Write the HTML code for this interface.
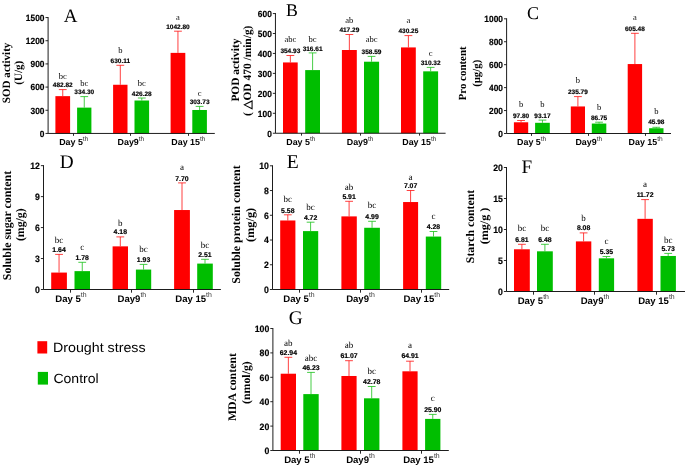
<!DOCTYPE html>
<html><head><meta charset="utf-8"><title>Figure</title>
<style>html,body{margin:0;padding:0;background:#fff;}svg{display:block;}text{font-family:"Liberation Sans",sans-serif;fill:#000;text-rendering:geometricPrecision;}.s{font-family:"Liberation Serif",serif;}.b{font-weight:bold;}.k{stroke:#000;stroke-width:0.18px;}</style></head><body>
<svg width="685" height="466" viewBox="0 0 685 466">
<defs><filter id="idf" x="0" y="0" width="685" height="466" filterUnits="userSpaceOnUse"><feOffset dx="0" dy="0"/></filter></defs>
<rect x="0" y="0" width="685" height="466" fill="#ffffff"/>
<g filter="url(#idf)">
<g>
<path d="M62.75 96.14V89.60M58.85 89.60H66.65" stroke="#ff1010" stroke-width="0.8" fill="none"/>
<rect x="55.40" y="96.14" width="14.70" height="37.31" fill="#ff0000"/>
<text class="b k" x="62.75" y="86.90" font-size="6.50" text-anchor="middle">482.82</text>
<text class="s" x="62.75" y="78.50" font-size="8.50" text-anchor="middle" fill="#3a3a3a">bc</text>
<path d="M84.25 107.62V96.60M80.35 96.60H88.15" stroke="#18c018" stroke-width="0.8" fill="none"/>
<rect x="77.10" y="107.62" width="14.30" height="25.83" fill="#00be00"/>
<text class="b k" x="84.25" y="93.90" font-size="6.50" text-anchor="middle">334.30</text>
<text class="s" x="84.25" y="85.50" font-size="8.50" text-anchor="middle" fill="#3a3a3a">bc</text>
<path d="M120.30 84.76V65.30M116.40 65.30H124.20" stroke="#ff1010" stroke-width="0.8" fill="none"/>
<rect x="113.10" y="84.76" width="14.40" height="48.69" fill="#ff0000"/>
<text class="b k" x="120.30" y="62.80" font-size="6.50" text-anchor="middle">630.11</text>
<text class="s" x="120.30" y="52.60" font-size="8.50" text-anchor="middle" fill="#3a3a3a">b</text>
<path d="M141.80 100.51V98.00M137.90 98.00H145.70" stroke="#18c018" stroke-width="0.8" fill="none"/>
<rect x="134.50" y="100.51" width="14.60" height="32.94" fill="#00be00"/>
<text class="b k" x="141.80" y="95.50" font-size="6.50" text-anchor="middle">426.28</text>
<text class="s" x="141.80" y="85.50" font-size="8.50" text-anchor="middle" fill="#3a3a3a">bc</text>
<path d="M177.95 52.88V31.20M174.05 31.20H181.85" stroke="#ff1010" stroke-width="0.8" fill="none"/>
<rect x="170.60" y="52.88" width="14.70" height="80.57" fill="#ff0000"/>
<text class="b k" x="177.95" y="28.60" font-size="6.50" text-anchor="middle">1042.80</text>
<text class="s" x="177.95" y="20.20" font-size="8.50" text-anchor="middle" fill="#3a3a3a">a</text>
<path d="M199.60 109.98V106.40M195.70 106.40H203.50" stroke="#18c018" stroke-width="0.8" fill="none"/>
<rect x="192.30" y="109.98" width="14.60" height="23.47" fill="#00be00"/>
<text class="b k" x="199.60" y="104.40" font-size="6.50" text-anchor="middle">303.73</text>
<text class="s" x="199.60" y="95.50" font-size="8.50" text-anchor="middle" fill="#3a3a3a">c</text>
<path d="M48.10 17.05V133.45H214.80" stroke="#111" stroke-width="0.95" fill="none"/>
<path d="M45.50 133.45H48.10M45.50 110.27H48.10M45.50 87.09H48.10M45.50 63.91H48.10M45.50 40.73H48.10M45.50 17.55H48.10M73.50 133.45V135.85M130.50 133.45V135.85M188.50 133.45V135.85" stroke="#111" stroke-width="0.9" fill="none"/>
<text class="b k" transform="translate(44.50 136.78) scale(0.93 1)" font-size="9.00" text-anchor="end">0</text>
<text class="b k" transform="translate(44.50 113.60) scale(0.93 1)" font-size="9.00" text-anchor="end">300</text>
<text class="b k" transform="translate(44.50 90.42) scale(0.93 1)" font-size="9.00" text-anchor="end">600</text>
<text class="b k" transform="translate(44.50 67.24) scale(0.93 1)" font-size="9.00" text-anchor="end">900</text>
<text class="b k" transform="translate(44.50 44.06) scale(0.93 1)" font-size="9.00" text-anchor="end">1200</text>
<text class="b k" transform="translate(44.50 20.88) scale(0.93 1)" font-size="9.00" text-anchor="end">1500</text>
<text class="b" x="59.15" y="145.00" font-size="8.90">Day 5<tspan font-weight="normal" fill="#333" font-size="6.60" dy="-4.45">th</tspan></text>
<text class="b" x="117.55" y="145.00" font-size="8.90">Day9<tspan font-weight="normal" fill="#333" font-size="6.60" dy="-4.45">th</tspan></text>
<text class="b" x="171.35" y="145.00" font-size="8.90">Day 15<tspan font-weight="normal" fill="#333" font-size="6.60" dy="-4.45">th</tspan></text>
<text class="s" x="63.80" y="21.70" font-size="19.00">A</text>
<text class="s b" transform="translate(9.50 72.90) rotate(-90)" font-size="11.20" text-anchor="middle" textLength="60.60" lengthAdjust="spacingAndGlyphs">SOD activity</text>
<text class="s b" transform="translate(22.30 72.80) rotate(-90)" font-size="11.20" text-anchor="middle" textLength="23.80" lengthAdjust="spacingAndGlyphs">(U/g)</text>
</g>
<g>
<path d="M290.35 62.44V55.50M286.45 55.50H294.25" stroke="#ff1010" stroke-width="0.8" fill="none"/>
<rect x="283.00" y="62.44" width="14.70" height="70.81" fill="#ff0000"/>
<text class="b k" x="290.35" y="52.60" font-size="6.50" text-anchor="middle">354.93</text>
<text class="s" x="290.35" y="42.30" font-size="8.50" text-anchor="middle" fill="#3a3a3a">abc</text>
<path d="M312.60 70.09V52.90M308.70 52.90H316.50" stroke="#18c018" stroke-width="0.8" fill="none"/>
<rect x="305.20" y="70.09" width="14.80" height="63.16" fill="#00be00"/>
<text class="b k" x="312.60" y="50.50" font-size="6.50" text-anchor="middle">316.61</text>
<text class="s" x="312.60" y="42.30" font-size="8.50" text-anchor="middle" fill="#3a3a3a">bc</text>
<path d="M349.35 50.00V34.50M345.45 34.50H353.25" stroke="#ff1010" stroke-width="0.8" fill="none"/>
<rect x="341.90" y="50.00" width="14.90" height="83.25" fill="#ff0000"/>
<text class="b k" x="349.35" y="31.70" font-size="6.50" text-anchor="middle">417.29</text>
<text class="s" x="349.35" y="23.30" font-size="8.50" text-anchor="middle" fill="#3a3a3a">ab</text>
<path d="M371.55 61.71V56.40M367.65 56.40H375.45" stroke="#18c018" stroke-width="0.8" fill="none"/>
<rect x="364.00" y="61.71" width="15.10" height="71.54" fill="#00be00"/>
<text class="b k" x="371.55" y="53.70" font-size="6.50" text-anchor="middle">358.59</text>
<text class="s" x="371.55" y="42.10" font-size="8.50" text-anchor="middle" fill="#3a3a3a">abc</text>
<path d="M408.40 47.42V35.60M404.50 35.60H412.30" stroke="#ff1010" stroke-width="0.8" fill="none"/>
<rect x="401.00" y="47.42" width="14.80" height="85.83" fill="#ff0000"/>
<text class="b k" x="408.40" y="32.60" font-size="6.50" text-anchor="middle">430.25</text>
<text class="s" x="408.40" y="23.40" font-size="8.50" text-anchor="middle" fill="#3a3a3a">a</text>
<path d="M430.65 71.34V67.40M426.75 67.40H434.55" stroke="#18c018" stroke-width="0.8" fill="none"/>
<rect x="423.20" y="71.34" width="14.90" height="61.91" fill="#00be00"/>
<text class="b k" x="430.65" y="64.50" font-size="6.50" text-anchor="middle">310.32</text>
<text class="s" x="430.65" y="56.10" font-size="8.50" text-anchor="middle" fill="#3a3a3a">c</text>
<path d="M275.45 13.05V133.25H445.60" stroke="#111" stroke-width="0.95" fill="none"/>
<path d="M272.85 133.25H275.45M272.85 113.30H275.45M272.85 93.35H275.45M272.85 73.40H275.45M272.85 53.45H275.45M272.85 33.50H275.45M272.85 13.55H275.45M301.50 133.25V135.65M360.50 133.25V135.65M419.50 133.25V135.65" stroke="#111" stroke-width="0.9" fill="none"/>
<text class="b k" transform="translate(271.85 136.58) scale(0.93 1)" font-size="9.00" text-anchor="end">0</text>
<text class="b k" transform="translate(271.85 116.63) scale(0.93 1)" font-size="9.00" text-anchor="end">100</text>
<text class="b k" transform="translate(271.85 96.68) scale(0.93 1)" font-size="9.00" text-anchor="end">200</text>
<text class="b k" transform="translate(271.85 76.73) scale(0.93 1)" font-size="9.00" text-anchor="end">300</text>
<text class="b k" transform="translate(271.85 56.78) scale(0.93 1)" font-size="9.00" text-anchor="end">400</text>
<text class="b k" transform="translate(271.85 36.83) scale(0.93 1)" font-size="9.00" text-anchor="end">500</text>
<text class="b k" transform="translate(271.85 16.88) scale(0.93 1)" font-size="9.00" text-anchor="end">600</text>
<text class="b" x="286.25" y="145.00" font-size="8.90">Day 5<tspan font-weight="normal" fill="#333" font-size="6.60" dy="-4.45">th</tspan></text>
<text class="b" x="346.75" y="145.00" font-size="8.90">Day9<tspan font-weight="normal" fill="#333" font-size="6.60" dy="-4.45">th</tspan></text>
<text class="b" x="402.25" y="145.00" font-size="8.90">Day 15<tspan font-weight="normal" fill="#333" font-size="6.60" dy="-4.45">th</tspan></text>
<text class="s" x="286.00" y="16.20" font-size="17.80">B</text>
<text class="s b" transform="translate(239.00 70.10) rotate(-90)" font-size="11.30" text-anchor="middle" textLength="63.00" lengthAdjust="spacingAndGlyphs">POD activity</text>
<text class="s b" transform="translate(250.70 70.80) rotate(-90)" font-size="11.30" text-anchor="middle" textLength="90.40" lengthAdjust="spacingAndGlyphs">( △OD 470 /min/g)</text>
</g>
<g>
<path d="M521.05 122.28V120.50M517.15 120.50H524.95" stroke="#ff1010" stroke-width="0.8" fill="none"/>
<rect x="513.90" y="122.28" width="14.30" height="11.22" fill="#ff0000"/>
<text class="b k" x="521.05" y="117.90" font-size="6.50" text-anchor="middle">97.80</text>
<text class="s" x="521.05" y="106.80" font-size="8.50" text-anchor="middle" fill="#3a3a3a">b</text>
<path d="M542.45 122.81V120.10M538.55 120.10H546.35" stroke="#18c018" stroke-width="0.8" fill="none"/>
<rect x="535.10" y="122.81" width="14.70" height="10.69" fill="#00be00"/>
<text class="b k" x="542.45" y="117.90" font-size="6.50" text-anchor="middle">93.17</text>
<text class="s" x="542.45" y="106.80" font-size="8.50" text-anchor="middle" fill="#3a3a3a">b</text>
<path d="M577.90 106.45V96.60M574.00 96.60H581.80" stroke="#ff1010" stroke-width="0.8" fill="none"/>
<rect x="570.80" y="106.45" width="14.20" height="27.05" fill="#ff0000"/>
<text class="b k" x="577.90" y="94.20" font-size="6.50" text-anchor="middle">235.79</text>
<text class="s" x="577.90" y="83.40" font-size="8.50" text-anchor="middle" fill="#3a3a3a">b</text>
<path d="M599.05 123.55V122.20M595.15 122.20H602.95" stroke="#18c018" stroke-width="0.8" fill="none"/>
<rect x="591.80" y="123.55" width="14.50" height="9.95" fill="#00be00"/>
<text class="b k" x="599.05" y="119.60" font-size="6.50" text-anchor="middle">86.75</text>
<text class="s" x="599.05" y="110.30" font-size="8.50" text-anchor="middle" fill="#3a3a3a">b</text>
<path d="M634.90 64.05V33.30M631.00 33.30H638.80" stroke="#ff1010" stroke-width="0.8" fill="none"/>
<rect x="627.70" y="64.05" width="14.40" height="69.45" fill="#ff0000"/>
<text class="b k" x="634.90" y="30.70" font-size="6.50" text-anchor="middle">605.48</text>
<text class="s" x="634.90" y="20.40" font-size="8.50" text-anchor="middle" fill="#3a3a3a">a</text>
<path d="M656.30 128.23V127.30M652.40 127.30H660.20" stroke="#18c018" stroke-width="0.8" fill="none"/>
<rect x="649.10" y="128.23" width="14.40" height="5.27" fill="#00be00"/>
<text class="b k" x="656.30" y="124.40" font-size="6.50" text-anchor="middle">45.98</text>
<text class="s" x="656.30" y="113.80" font-size="8.50" text-anchor="middle" fill="#3a3a3a">b</text>
<path d="M506.60 18.30V133.50H671.00" stroke="#111" stroke-width="0.95" fill="none"/>
<path d="M504.00 133.50H506.60M504.00 110.56H506.60M504.00 87.62H506.60M504.00 64.68H506.60M504.00 41.74H506.60M504.00 18.80H506.60M531.50 133.50V135.90M588.50 133.50V135.90M645.50 133.50V135.90" stroke="#111" stroke-width="0.9" fill="none"/>
<text class="b k" transform="translate(503.00 136.83) scale(0.93 1)" font-size="9.00" text-anchor="end">0</text>
<text class="b k" transform="translate(503.00 113.89) scale(0.93 1)" font-size="9.00" text-anchor="end">200</text>
<text class="b k" transform="translate(503.00 90.95) scale(0.93 1)" font-size="9.00" text-anchor="end">400</text>
<text class="b k" transform="translate(503.00 68.01) scale(0.93 1)" font-size="9.00" text-anchor="end">600</text>
<text class="b k" transform="translate(503.00 45.07) scale(0.93 1)" font-size="9.00" text-anchor="end">800</text>
<text class="b k" transform="translate(503.00 22.13) scale(0.93 1)" font-size="9.00" text-anchor="end">1000</text>
<text class="b" x="517.05" y="145.00" font-size="8.90">Day 5<tspan font-weight="normal" fill="#333" font-size="6.60" dy="-4.45">th</tspan></text>
<text class="b" x="575.45" y="145.00" font-size="8.90">Day9<tspan font-weight="normal" fill="#333" font-size="6.60" dy="-4.45">th</tspan></text>
<text class="b" x="628.55" y="145.00" font-size="8.90">Day 15<tspan font-weight="normal" fill="#333" font-size="6.60" dy="-4.45">th</tspan></text>
<text class="s" x="527.00" y="19.40" font-size="18.00">C</text>
<text class="s b" transform="translate(466.30 73.40) rotate(-90)" font-size="10.90" text-anchor="middle" textLength="53.90" lengthAdjust="spacingAndGlyphs">Pro content</text>
<text class="s b" transform="translate(480.00 73.30) rotate(-90)" font-size="10.90" text-anchor="middle" textLength="27.10" lengthAdjust="spacingAndGlyphs">(μg/g)</text>
</g>
<g>
<path d="M59.05 272.57V254.40M55.15 254.40H62.95" stroke="#ff1010" stroke-width="0.8" fill="none"/>
<rect x="51.20" y="272.57" width="15.70" height="16.93" fill="#ff0000"/>
<text class="b k" x="59.05" y="252.20" font-size="6.90" text-anchor="middle">1.64</text>
<text class="s" x="59.05" y="242.60" font-size="9.00" text-anchor="middle" fill="#3a3a3a">bc</text>
<path d="M82.25 271.13V262.30M78.35 262.30H86.15" stroke="#18c018" stroke-width="0.8" fill="none"/>
<rect x="74.50" y="271.13" width="15.50" height="18.37" fill="#00be00"/>
<text class="b k" x="82.25" y="259.70" font-size="6.90" text-anchor="middle">1.78</text>
<text class="s" x="82.25" y="250.10" font-size="9.00" text-anchor="middle" fill="#3a3a3a">c</text>
<path d="M120.30 246.36V236.90M116.40 236.90H124.20" stroke="#ff1010" stroke-width="0.8" fill="none"/>
<rect x="112.60" y="246.36" width="15.40" height="43.14" fill="#ff0000"/>
<text class="b k" x="120.30" y="234.30" font-size="6.90" text-anchor="middle">4.18</text>
<text class="s" x="120.30" y="225.90" font-size="9.00" text-anchor="middle" fill="#3a3a3a">b</text>
<path d="M143.55 269.58V264.40M139.65 264.40H147.45" stroke="#18c018" stroke-width="0.8" fill="none"/>
<rect x="135.90" y="269.58" width="15.30" height="19.92" fill="#00be00"/>
<text class="b k" x="143.55" y="261.80" font-size="6.90" text-anchor="middle">1.93</text>
<text class="s" x="143.55" y="252.40" font-size="9.00" text-anchor="middle" fill="#3a3a3a">bc</text>
<path d="M182.00 210.03V182.90M178.10 182.90H185.90" stroke="#ff1010" stroke-width="0.8" fill="none"/>
<rect x="174.10" y="210.03" width="15.80" height="79.47" fill="#ff0000"/>
<text class="b k" x="182.00" y="180.70" font-size="6.90" text-anchor="middle">7.70</text>
<text class="s" x="182.00" y="170.20" font-size="9.00" text-anchor="middle" fill="#3a3a3a">a</text>
<path d="M205.00 263.59V259.30M201.10 259.30H208.90" stroke="#18c018" stroke-width="0.8" fill="none"/>
<rect x="197.20" y="263.59" width="15.60" height="25.91" fill="#00be00"/>
<text class="b k" x="205.00" y="256.80" font-size="6.90" text-anchor="middle">2.51</text>
<text class="s" x="205.00" y="247.50" font-size="9.00" text-anchor="middle" fill="#3a3a3a">bc</text>
<path d="M43.50 165.15V289.50H220.90" stroke="#111" stroke-width="0.95" fill="none"/>
<path d="M40.90 289.50H43.50M40.90 258.54H43.50M40.90 227.57H43.50M40.90 196.61H43.50M40.90 165.65H43.50M70.50 289.50V292.70M131.50 289.50V292.70M193.50 289.50V292.70" stroke="#111" stroke-width="0.9" fill="none"/>
<text class="b k" transform="translate(39.90 292.90) scale(0.95 1)" font-size="9.20" text-anchor="end">0</text>
<text class="b k" transform="translate(39.90 261.94) scale(0.95 1)" font-size="9.20" text-anchor="end">3</text>
<text class="b k" transform="translate(39.90 230.98) scale(0.95 1)" font-size="9.20" text-anchor="end">6</text>
<text class="b k" transform="translate(39.90 200.02) scale(0.95 1)" font-size="9.20" text-anchor="end">9</text>
<text class="b k" transform="translate(39.90 169.05) scale(0.95 1)" font-size="9.20" text-anchor="end">12</text>
<text class="b" x="55.25" y="301.60" font-size="9.55">Day 5<tspan font-weight="normal" fill="#333" font-size="6.90" dy="-4.78">th</tspan></text>
<text class="b" x="117.55" y="301.60" font-size="9.55">Day9<tspan font-weight="normal" fill="#333" font-size="6.90" dy="-4.78">th</tspan></text>
<text class="b" x="175.25" y="301.60" font-size="9.55">Day 15<tspan font-weight="normal" fill="#333" font-size="6.90" dy="-4.78">th</tspan></text>
<text class="s" x="59.70" y="167.60" font-size="19.30">D</text>
<text class="s b" transform="translate(10.80 225.50) rotate(-90)" font-size="11.90" text-anchor="middle" textLength="109.30" lengthAdjust="spacingAndGlyphs">Soluble sugar content</text>
<text class="s b" transform="translate(24.20 224.70) rotate(-90)" font-size="11.90" text-anchor="middle" textLength="32.80" lengthAdjust="spacingAndGlyphs">(mg/g)</text>
</g>
<g>
<path d="M287.80 220.48V214.80M283.90 214.80H291.70" stroke="#ff1010" stroke-width="0.8" fill="none"/>
<rect x="280.20" y="220.48" width="15.20" height="69.02" fill="#ff0000"/>
<text class="b k" x="287.80" y="212.80" font-size="6.90" text-anchor="middle">5.58</text>
<text class="s" x="287.80" y="202.30" font-size="9.00" text-anchor="middle" fill="#3a3a3a">bc</text>
<path d="M310.60 231.11V222.20M306.70 222.20H314.50" stroke="#18c018" stroke-width="0.8" fill="none"/>
<rect x="303.00" y="231.11" width="15.20" height="58.39" fill="#00be00"/>
<text class="b k" x="310.60" y="219.80" font-size="6.90" text-anchor="middle">4.72</text>
<text class="s" x="310.60" y="210.10" font-size="9.00" text-anchor="middle" fill="#3a3a3a">bc</text>
<path d="M349.10 216.39V201.30M345.20 201.30H353.00" stroke="#ff1010" stroke-width="0.8" fill="none"/>
<rect x="341.40" y="216.39" width="15.40" height="73.11" fill="#ff0000"/>
<text class="b k" x="349.10" y="199.10" font-size="6.90" text-anchor="middle">5.91</text>
<text class="s" x="349.10" y="189.60" font-size="9.00" text-anchor="middle" fill="#3a3a3a">ab</text>
<path d="M372.05 227.77V221.30M368.15 221.30H375.95" stroke="#18c018" stroke-width="0.8" fill="none"/>
<rect x="364.20" y="227.77" width="15.70" height="61.73" fill="#00be00"/>
<text class="b k" x="372.05" y="218.60" font-size="6.90" text-anchor="middle">4.99</text>
<text class="s" x="372.05" y="208.00" font-size="9.00" text-anchor="middle" fill="#3a3a3a">bc</text>
<path d="M410.60 202.04V190.50M406.70 190.50H414.50" stroke="#ff1010" stroke-width="0.8" fill="none"/>
<rect x="403.10" y="202.04" width="15.00" height="87.46" fill="#ff0000"/>
<text class="b k" x="410.60" y="188.20" font-size="6.90" text-anchor="middle">7.07</text>
<text class="s" x="410.60" y="179.50" font-size="9.00" text-anchor="middle" fill="#3a3a3a">a</text>
<path d="M433.50 236.56V231.50M429.60 231.50H437.40" stroke="#18c018" stroke-width="0.8" fill="none"/>
<rect x="425.80" y="236.56" width="15.40" height="52.94" fill="#00be00"/>
<text class="b k" x="433.50" y="228.90" font-size="6.90" text-anchor="middle">4.28</text>
<text class="s" x="433.50" y="219.40" font-size="9.00" text-anchor="middle" fill="#3a3a3a">c</text>
<path d="M272.50 165.30V289.50H449.20" stroke="#111" stroke-width="0.95" fill="none"/>
<path d="M269.90 289.50H272.50M269.90 264.76H272.50M269.90 240.02H272.50M269.90 215.28H272.50M269.90 190.54H272.50M269.90 165.80H272.50M299.50 289.50V292.70M360.50 289.50V292.70M421.50 289.50V292.70" stroke="#111" stroke-width="0.9" fill="none"/>
<text class="b k" transform="translate(268.90 292.90) scale(0.95 1)" font-size="9.20" text-anchor="end">0</text>
<text class="b k" transform="translate(268.90 268.16) scale(0.95 1)" font-size="9.20" text-anchor="end">2</text>
<text class="b k" transform="translate(268.90 243.42) scale(0.95 1)" font-size="9.20" text-anchor="end">4</text>
<text class="b k" transform="translate(268.90 218.68) scale(0.95 1)" font-size="9.20" text-anchor="end">6</text>
<text class="b k" transform="translate(268.90 193.94) scale(0.95 1)" font-size="9.20" text-anchor="end">8</text>
<text class="b k" transform="translate(268.90 169.20) scale(0.95 1)" font-size="9.20" text-anchor="end">10</text>
<text class="b" x="283.25" y="301.60" font-size="9.55">Day 5<tspan font-weight="normal" fill="#333" font-size="6.90" dy="-4.78">th</tspan></text>
<text class="b" x="346.15" y="301.60" font-size="9.55">Day9<tspan font-weight="normal" fill="#333" font-size="6.90" dy="-4.78">th</tspan></text>
<text class="b" x="403.45" y="301.60" font-size="9.55">Day 15<tspan font-weight="normal" fill="#333" font-size="6.90" dy="-4.78">th</tspan></text>
<text class="s" x="286.80" y="167.70" font-size="19.60">E</text>
<text class="s b" transform="translate(240.30 224.50) rotate(-90)" font-size="11.90" text-anchor="middle" textLength="118.30" lengthAdjust="spacingAndGlyphs">Soluble protein content</text>
<text class="s b" transform="translate(253.60 224.90) rotate(-90)" font-size="11.90" text-anchor="middle" textLength="34.20" lengthAdjust="spacingAndGlyphs">(mg/g)</text>
</g>
<g>
<path d="M521.90 249.28V244.30M518.00 244.30H525.80" stroke="#ff1010" stroke-width="0.8" fill="none"/>
<rect x="514.00" y="249.28" width="15.80" height="42.22" fill="#ff0000"/>
<text class="b k" x="521.90" y="241.70" font-size="6.90" text-anchor="middle">6.81</text>
<text class="s" x="521.90" y="231.40" font-size="9.00" text-anchor="middle" fill="#3a3a3a">bc</text>
<path d="M544.90 251.32V244.30M541.00 244.30H548.80" stroke="#18c018" stroke-width="0.8" fill="none"/>
<rect x="537.00" y="251.32" width="15.80" height="40.18" fill="#00be00"/>
<text class="b k" x="544.90" y="241.70" font-size="6.90" text-anchor="middle">6.48</text>
<text class="s" x="544.90" y="231.40" font-size="9.00" text-anchor="middle" fill="#3a3a3a">bc</text>
<path d="M583.60 241.40V232.90M579.70 232.90H587.50" stroke="#ff1010" stroke-width="0.8" fill="none"/>
<rect x="575.90" y="241.40" width="15.40" height="50.10" fill="#ff0000"/>
<text class="b k" x="583.60" y="230.00" font-size="6.90" text-anchor="middle">8.08</text>
<text class="s" x="583.60" y="221.00" font-size="9.00" text-anchor="middle" fill="#3a3a3a">b</text>
<path d="M606.45 258.33V256.50M602.55 256.50H610.35" stroke="#18c018" stroke-width="0.8" fill="none"/>
<rect x="598.80" y="258.33" width="15.30" height="33.17" fill="#00be00"/>
<text class="b k" x="606.45" y="254.00" font-size="6.90" text-anchor="middle">5.35</text>
<text class="s" x="606.45" y="243.60" font-size="9.00" text-anchor="middle" fill="#3a3a3a">c</text>
<path d="M645.10 218.84V199.60M641.20 199.60H649.00" stroke="#ff1010" stroke-width="0.8" fill="none"/>
<rect x="637.40" y="218.84" width="15.40" height="72.66" fill="#ff0000"/>
<text class="b k" x="645.10" y="197.00" font-size="6.90" text-anchor="middle">11.72</text>
<text class="s" x="645.10" y="187.40" font-size="9.00" text-anchor="middle" fill="#3a3a3a">a</text>
<path d="M668.20 255.97V253.40M664.30 253.40H672.10" stroke="#18c018" stroke-width="0.8" fill="none"/>
<rect x="660.50" y="255.97" width="15.40" height="35.53" fill="#00be00"/>
<text class="b k" x="668.20" y="251.00" font-size="6.90" text-anchor="middle">5.73</text>
<text class="s" x="668.20" y="242.60" font-size="9.00" text-anchor="middle" fill="#3a3a3a">bc</text>
<path d="M506.50 167.00V291.50H685.00" stroke="#111" stroke-width="0.95" fill="none"/>
<path d="M503.90 291.50H506.50M503.90 260.50H506.50M503.90 229.50H506.50M503.90 198.50H506.50M503.90 167.50H506.50M533.50 291.50V294.70M594.50 291.50V294.70M656.50 291.50V294.70" stroke="#111" stroke-width="0.9" fill="none"/>
<text class="b k" transform="translate(502.90 294.90) scale(0.95 1)" font-size="9.20" text-anchor="end">0</text>
<text class="b k" transform="translate(502.90 263.90) scale(0.95 1)" font-size="9.20" text-anchor="end">5</text>
<text class="b k" transform="translate(502.90 232.90) scale(0.95 1)" font-size="9.20" text-anchor="end">10</text>
<text class="b k" transform="translate(502.90 201.90) scale(0.95 1)" font-size="9.20" text-anchor="end">15</text>
<text class="b k" transform="translate(502.90 170.90) scale(0.95 1)" font-size="9.20" text-anchor="end">20</text>
<text class="b" x="517.65" y="303.60" font-size="9.55">Day 5<tspan font-weight="normal" fill="#333" font-size="6.90" dy="-4.78">th</tspan></text>
<text class="b" x="580.65" y="303.60" font-size="9.55">Day9<tspan font-weight="normal" fill="#333" font-size="6.90" dy="-4.78">th</tspan></text>
<text class="b" x="638.15" y="303.60" font-size="9.55">Day 15<tspan font-weight="normal" fill="#333" font-size="6.90" dy="-4.78">th</tspan></text>
<text class="s" x="521.60" y="173.10" font-size="19.20">F</text>
<text class="s b" transform="translate(474.30 226.50) rotate(-90)" font-size="11.60" text-anchor="middle" textLength="73.30" lengthAdjust="spacingAndGlyphs">Starch content</text>
<text class="s b" transform="translate(488.00 226.00) rotate(-90)" font-size="11.60" text-anchor="middle" textLength="36.70" lengthAdjust="spacingAndGlyphs">(mg/g )</text>
</g>
<g>
<path d="M288.35 373.71V357.30M284.45 357.30H292.25" stroke="#ff1010" stroke-width="0.8" fill="none"/>
<rect x="280.70" y="373.71" width="15.30" height="76.79" fill="#ff0000"/>
<text class="b k" x="288.35" y="354.80" font-size="6.90" text-anchor="middle">62.94</text>
<text class="s" x="288.35" y="345.50" font-size="9.00" text-anchor="middle" fill="#3a3a3a">ab</text>
<path d="M311.00 394.10V372.40M307.10 372.40H314.90" stroke="#18c018" stroke-width="0.8" fill="none"/>
<rect x="303.30" y="394.10" width="15.40" height="56.40" fill="#00be00"/>
<text class="b k" x="311.00" y="369.60" font-size="6.90" text-anchor="middle">46.23</text>
<text class="s" x="311.00" y="361.20" font-size="9.00" text-anchor="middle" fill="#3a3a3a">abc</text>
<path d="M349.00 375.99V360.70M345.10 360.70H352.90" stroke="#ff1010" stroke-width="0.8" fill="none"/>
<rect x="341.40" y="375.99" width="15.20" height="74.51" fill="#ff0000"/>
<text class="b k" x="349.00" y="357.90" font-size="6.90" text-anchor="middle">61.07</text>
<text class="s" x="349.00" y="348.10" font-size="9.00" text-anchor="middle" fill="#3a3a3a">ab</text>
<path d="M371.70 398.31V386.50M367.80 386.50H375.60" stroke="#18c018" stroke-width="0.8" fill="none"/>
<rect x="364.00" y="398.31" width="15.40" height="52.19" fill="#00be00"/>
<text class="b k" x="371.70" y="384.00" font-size="6.90" text-anchor="middle">42.78</text>
<text class="s" x="371.70" y="373.50" font-size="9.00" text-anchor="middle" fill="#3a3a3a">bc</text>
<path d="M410.00 371.31V361.20M406.10 361.20H413.90" stroke="#ff1010" stroke-width="0.8" fill="none"/>
<rect x="402.40" y="371.31" width="15.20" height="79.19" fill="#ff0000"/>
<text class="b k" x="410.00" y="358.30" font-size="6.90" text-anchor="middle">64.91</text>
<text class="s" x="410.00" y="347.70" font-size="9.00" text-anchor="middle" fill="#3a3a3a">a</text>
<path d="M432.75 418.90V414.40M428.85 414.40H436.65" stroke="#18c018" stroke-width="0.8" fill="none"/>
<rect x="425.10" y="418.90" width="15.30" height="31.60" fill="#00be00"/>
<text class="b k" x="432.75" y="412.00" font-size="6.90" text-anchor="middle">25.90</text>
<text class="s" x="432.75" y="401.10" font-size="9.00" text-anchor="middle" fill="#3a3a3a">c</text>
<path d="M272.90 328.00V450.50H448.80" stroke="#111" stroke-width="0.95" fill="none"/>
<path d="M270.30 450.50H272.90M270.30 426.10H272.90M270.30 401.70H272.90M270.30 377.30H272.90M270.30 352.90H272.90M270.30 328.50H272.90M299.50 450.50V453.70M360.50 450.50V453.70M421.50 450.50V453.70" stroke="#111" stroke-width="0.9" fill="none"/>
<text class="b k" transform="translate(269.30 453.90) scale(0.95 1)" font-size="9.20" text-anchor="end">0</text>
<text class="b k" transform="translate(269.30 429.50) scale(0.95 1)" font-size="9.20" text-anchor="end">20</text>
<text class="b k" transform="translate(269.30 405.10) scale(0.95 1)" font-size="9.20" text-anchor="end">40</text>
<text class="b k" transform="translate(269.30 380.70) scale(0.95 1)" font-size="9.20" text-anchor="end">60</text>
<text class="b k" transform="translate(269.30 356.30) scale(0.95 1)" font-size="9.20" text-anchor="end">80</text>
<text class="b k" transform="translate(269.30 331.90) scale(0.95 1)" font-size="9.20" text-anchor="end">100</text>
<text class="b" x="284.15" y="462.60" font-size="9.55">Day 5<tspan font-weight="normal" fill="#333" font-size="6.90" dy="-4.78">th</tspan></text>
<text class="b" x="346.15" y="462.60" font-size="9.55">Day9<tspan font-weight="normal" fill="#333" font-size="6.90" dy="-4.78">th</tspan></text>
<text class="b" x="403.15" y="462.60" font-size="9.55">Day 15<tspan font-weight="normal" fill="#333" font-size="6.90" dy="-4.78">th</tspan></text>
<text class="s" x="288.70" y="324.10" font-size="19.40">G</text>
<text class="s b" transform="translate(235.80 387.10) rotate(-90)" font-size="11.60" text-anchor="middle" textLength="68.00" lengthAdjust="spacingAndGlyphs">MDA content</text>
<text class="s b" transform="translate(250.00 382.60) rotate(-90)" font-size="11.60" text-anchor="middle" textLength="42.80" lengthAdjust="spacingAndGlyphs">(nmol/g)</text>
</g>
<rect x="37.4" y="341.2" width="9.8" height="12.3" fill="#ff0000"/>
<rect x="37.8" y="371.9" width="10.2" height="12.7" fill="#00be00"/>
<text x="53.0" y="352.1" font-size="13.4" textLength="92.6" lengthAdjust="spacingAndGlyphs">Drought stress</text>
<text x="53.4" y="382.7" font-size="13.4" textLength="45.3" lengthAdjust="spacingAndGlyphs">Control</text>
</g>
</svg></body></html>
